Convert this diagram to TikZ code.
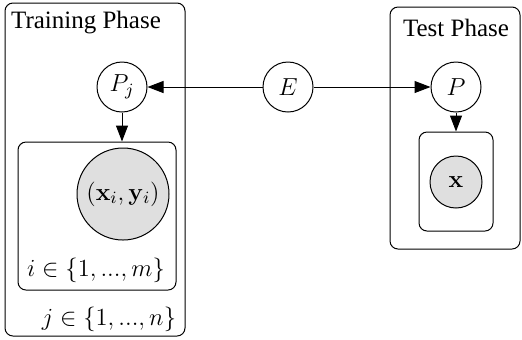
\RequirePackage{fix-cm}
\documentclass[tikz,border=0pt,12pt]{standalone}
\usepackage[no-math]{fontspec}
\setmainfont{Liberation Serif}
\usetikzlibrary{arrows.meta}
\begin{document}
\begin{tikzpicture}[x=0.5pt,y=-0.5pt,
  every node/.style={font=\fontsize{12.3}{15}\selectfont},
  plate/.style={draw, rounded corners=4pt, line width=0.5pt, inner sep=0pt},
  var/.style={draw, circle, line width=0.5pt, minimum size=25pt, inner sep=0pt},
  obs/.style={var, fill=gray!25},
  link/.style={line width=0.5pt, -{Triangle[length=8pt,width=6pt]}},
  title/.style={font=\fontsize{12.5}{15}\selectfont}]
\useasboundingbox (0,0) rectangle (522,339);

% plates
\node[plate, minimum width=90pt, minimum height=166.5pt] (trainOuter) at (95,169.5) {};
\node[plate, minimum width=79pt, minimum height=74pt] (trainInner) at (97,216) {};
\node[plate, minimum width=65pt, minimum height=121pt] (testOuter) at (455,128) {};
\node[plate, minimum width=37pt, minimum height=49.5pt] (testInner) at (456,181.5) {};

% plate labels
\node[title] (trainLbl) at (86,23) {Training Phase};
\node[title] (testLbl) at (456,28) {Test Phase};
\node (iLbl) at (96,270) {$i \in \{1,...,m\}$};
\node (jLbl) at (109,319) {$j \in \{1,...,n\}$};

% variables
\node[var] (Pj) at (122,87) {$P_j$};
\node[var] (E) at (288,87) {$E$};
\node[var] (P) at (456,87) {$P$};
\node[obs, minimum size=46pt] (xy) at (123,194) {$(\mathbf{x}_i,\mathbf{y}_i)$};
\node[obs, minimum size=26pt] (x) at (456,182) {$\mathbf{x}$};

% dependencies
\draw[link] (E) -- (Pj);
\draw[link] (E) -- (P);
\draw[link] (Pj) -- (Pj |- trainInner.north);
\draw[link] (P) -- (P |- testInner.north);
\end{tikzpicture}
\end{document}
